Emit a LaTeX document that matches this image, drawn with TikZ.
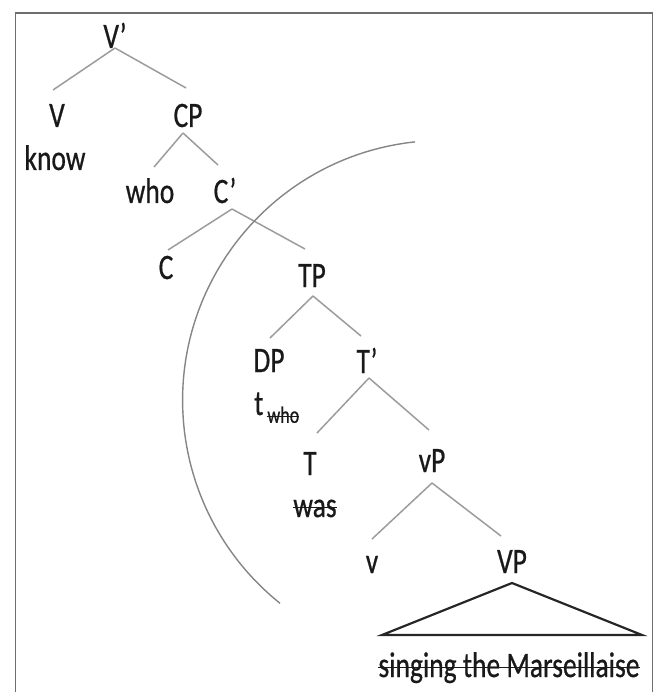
\documentclass[tikz,border=0pt]{standalone}
\usepackage{fontspec}
\setmainfont{Carlito}
\newfontfamily\labfont{Carlito}[FakeBold=0.7]
\definecolor{edgegray}{HTML}{9C9C9C}
\definecolor{arcgray}{HTML}{858585}
\definecolor{framegray}{HTML}{6E6E6E}
\newcommand{\subfont}{\fontsize{18}{20}\selectfont}
% struck-out text (deleted copy)
\newcommand{\struck}[1]{\setbox0\hbox{#1}\rlap{\rule[0.5ex]{\wd0}{1.3pt}}\box0}

\begin{document}
\begin{tikzpicture}[x=1pt, y=-1pt,
  lab/.style={font=\labfont\fontsize{27.5}{30}\selectfont, text=black!90, inner sep=0pt, anchor=base, yscale=1.3, transform shape},
  edge/.style={edgegray, line width=1.5pt},
  roof/.style={black!85, line width=2.2pt, line join=miter},
  bound/.style={arcgray, line width=1.4pt},
  frame/.style={framegray, line width=1.5pt}]
  \useasboundingbox (0,0) rectangle (654,692);
  % frame, open at the bottom
  \draw[frame] (15.5,692) -- (15.5,13) -- (652.5,13) -- (652.5,692);

  % tree labels
  \node[lab] (vbar) at (115,48) {V’};
  \node[lab] (v) at (57,127) {V};
  \node[lab] (know) at (55,170) {know};
  \node[lab] (cp) at (188,127) {CP};
  \node[lab] (who) at (150,203) {who};
  \node[lab] (cbar) at (225,203) {C’};
  \node[lab] (c) at (166,279) {C};
  \node[lab] (tp) at (312,287) {TP};
  \node[lab] (dp) at (269,372) {DP};
  \node[lab, anchor=base west] (trace) at (254,415) {t\hspace{4pt}\raisebox{-6pt}{\subfont\struck{who}}};
  \node[lab] (tbar) at (367,373) {T’};
  \node[lab] (t) at (310,475) {T};
  \node[lab] (was) at (315,517) {\struck{was}};
  \node[lab] (vp) at (432,472) {vP};
  \node[lab] (sv) at (372,573) {v};
  \node[lab] (bigvp) at (512,573) {VP};
  \node[lab] (singing) at (509,677) {\struck{singing the Marseillaise}};

  % branches
  \draw[edge] (vbar.base) -- ([xshift=-4pt,yshift=37pt]v.base);
  \draw[edge] (vbar.base) -- ([xshift=-2pt,yshift=39pt]cp.base);
  \draw[edge] ([xshift=-5pt,yshift=-6pt]cp.base) -- ([xshift=4pt,yshift=36pt]who.base);
  \draw[edge] ([xshift=-5pt,yshift=-6pt]cp.base) -- ([xshift=-7pt,yshift=38pt]cbar.base);
  \draw[edge] ([xshift=7pt,yshift=-6pt]cbar.base) -- ([xshift=2pt,yshift=29pt]c.base);
  \draw[edge] ([xshift=7pt,yshift=-6pt]cbar.base) -- ([xshift=-7pt,yshift=38pt]tp.base);
  \draw[edge] ([xshift=1pt,yshift=-9pt]tp.base) -- ([xshift=1pt,yshift=34pt]dp.base);
  \draw[edge] ([xshift=1pt,yshift=-9pt]tp.base) -- ([xshift=-6pt,yshift=37pt]tbar.base);
  \draw[edge] ([xshift=2pt,yshift=-5pt]tbar.base) -- ([xshift=7pt,yshift=42pt]t.base);
  \draw[edge] ([xshift=2pt,yshift=-5pt]tbar.base) -- ([xshift=-3pt,yshift=42pt]vp.base);
  \draw[edge] ([yshift=-11pt]vp.base) -- ([yshift=34pt]sv.base);
  \draw[edge] ([yshift=-11pt]vp.base) -- ([xshift=-11pt,yshift=37pt]bigvp.base);

  % roof over the VP
  \draw[roof] ([yshift=-10pt]bigvp.base) -- ++(-130,52) -- ++(260,0) -- cycle;

  % phase boundary
  \draw[bound] (442.6,400.4) ++(263.9:260) arc[start angle=263.9, end angle=128.7, radius=260];
\end{tikzpicture}
\end{document}
